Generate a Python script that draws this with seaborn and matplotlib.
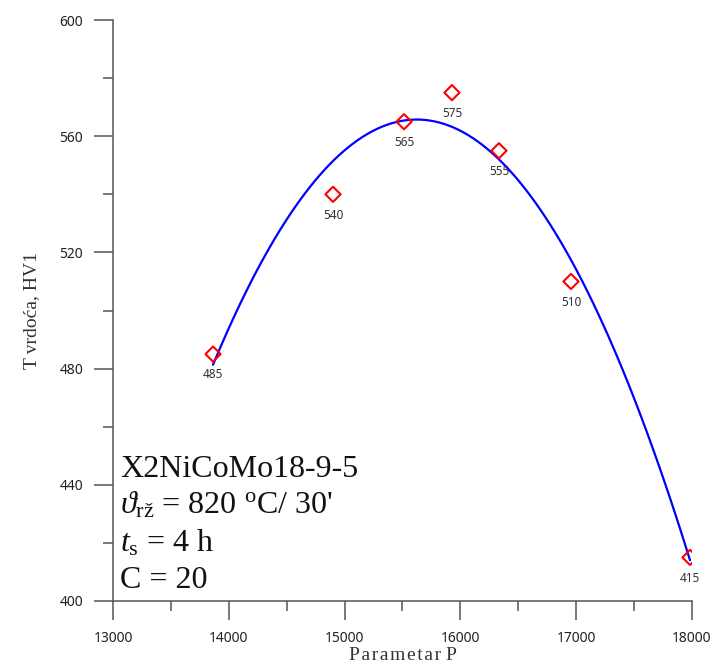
import matplotlib
matplotlib.use("Agg")
import matplotlib.pyplot as plt
import seaborn as sns
import pandas as pd
from matplotlib.ticker import MultipleLocator

parametar_p = [13864, 14900, 15513, 15927, 16333, 16955, 17983]
tvrdoca = [485, 540, 565, 575, 555, 510, 415]
point_labels = ["485", "540", "565", "575", "555", "510", "415"]
x_ticks = [13000, 14000, 15000, 16000, 17000, 18000]
y_ticks = [400, 440, 480, 520, 560, 600]

sns.set_theme(style="ticks")
plt.rcParams["font.family"] = ["Noto Sans", "DejaVu Sans"]
plt.rcParams["mathtext.fontset"] = "custom"
plt.rcParams["mathtext.rm"] = "Liberation Serif"
plt.rcParams["mathtext.it"] = "Liberation Serif:italic"

df = pd.DataFrame({"P": parametar_p, "HV1": tvrdoca})

fig = plt.figure(figsize=(7.13, 6.68), dpi=100)
ax = fig.add_axes([0.1585, 0.1003, 0.812, 0.8697])

sns.regplot(data=df, x="P", y="HV1", order=2, ci=None, scatter=False, truncate=True,
            line_kws=dict(color="#0000FF", lw=1.6), ax=ax)
sns.scatterplot(data=df, x="P", y="HV1", marker="D", s=60, facecolor="none",
                edgecolor="#FF0000", linewidth=1.5, ax=ax, zorder=5)

for x, y, lab in zip(parametar_p, tvrdoca, point_labels):
    ax.annotate(lab, (x, y), xytext=(0, -15), textcoords="offset points",
                ha="center", va="center", fontsize=8.5, color="#333333")

ax.set_xlim(13000, 18000)
ax.set_ylim(400, 600)
ax.set_xticks(x_ticks)
ax.set_yticks(y_ticks)
ax.xaxis.set_minor_locator(MultipleLocator(500))
ax.yaxis.set_minor_locator(MultipleLocator(20))
ax.tick_params(axis="both", which="major", length=13.5, width=1.1, color="#555555",
               labelsize=10, labelcolor="#222222", pad=8)
ax.tick_params(axis="both", which="minor", length=7, width=1.1, color="#555555")
for s in ["top", "right"]:
    ax.spines[s].set_visible(False)
for s in ["left", "bottom"]:
    ax.spines[s].set_color("#555555")
    ax.spines[s].set_linewidth(1.1)

ax.set_xlabel("P a r a m e t a r  P".replace(" ", "\u200a").replace("\u200a\u200a", " "),
              family="Liberation Serif", fontsize=14, color="#333333", labelpad=1)
ax.set_ylabel("T\u2009vrdoća, HV1", family="Liberation Serif", fontsize=14,
              color="#333333", labelpad=14)

lines = [
    "X2NiCoMo18-9-5",
    r"$\vartheta_{\mathrm{rž}}$ = 820 $^{\mathrm{o}}$C/ 30'",
    r"$t_{\mathrm{s}}$ = 4 h",
    "C = 20",
]
for i, t in enumerate(lines):
    fig.text(120 / 713, 1 - (477 + 37 * i) / 668, t, family="Liberation Serif",
             fontsize=23, color="#111111", va="baseline", ha="left")

fig.savefig("out.png", dpi=100)
